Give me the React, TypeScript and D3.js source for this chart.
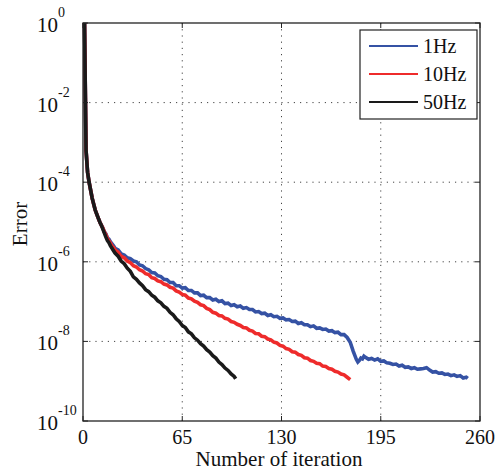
import React from "react";
import * as d3 from "d3";

const X_TICKS = [0, 65, 130, 195, 260];
const Y_TICK_EXPONENTS = [0, -2, -4, -6, -8, -10];
const SERIES_NAMES = ["1Hz", "10Hz", "50Hz"];
const SERIES_COLORS = ["#3552a4", "#ee2b2b", "#1a1a1a"];

const ITER_1HZ = [1,2,3,4,5,6,7,8,9,10,11,12,13,14,15,16,17,18,19,20,21,23,25,27,29,31,33,35,37,39,41,43,45,47,49,51,53,55,57,59,61,63,65,67,69,71,73,75,77,79,81,83,85,87,89,91,93,95,97,99,101,103,105,107,109,111,113,115,117,119,121,123,125,127,129,131,133,135,137,139,141,143,145,147,149,151,153,155,157,159,161,163,165,167,169,171,173,175,177,179,180,181,182,183,184,185,187,189,191,193,195,197,199,201,203,205,207,209,211,213,215,217,219,221,223,225,227,229,231,233,235,237,239,241,243,245,247,249,251,252];
const LOG_ERR_1HZ = [0,-3.2,-3.75,-4.0,-4.2,-4.4,-4.55,-4.7,-4.8,-4.9,-5.0,-5.08,-5.15,-5.25,-5.3,-5.4,-5.43,-5.5,-5.55,-5.6,-5.66,-5.7,-5.8,-5.83,-5.9,-5.92,-5.98,-6.0,-6.08,-6.1,-6.17,-6.2,-6.27,-6.28,-6.35,-6.37,-6.44,-6.45,-6.52,-6.52,-6.6,-6.6,-6.66,-6.65,-6.72,-6.72,-6.78,-6.78,-6.85,-6.84,-6.9,-6.9,-6.96,-6.94,-7.0,-6.98,-7.05,-7.04,-7.1,-7.08,-7.13,-7.11,-7.17,-7.15,-7.2,-7.2,-7.26,-7.25,-7.3,-7.29,-7.35,-7.33,-7.38,-7.37,-7.42,-7.41,-7.46,-7.45,-7.5,-7.49,-7.55,-7.53,-7.58,-7.58,-7.63,-7.61,-7.67,-7.66,-7.7,-7.69,-7.74,-7.73,-7.78,-7.77,-7.83,-7.83,-7.9,-8.02,-8.25,-8.45,-8.52,-8.48,-8.42,-8.44,-8.37,-8.4,-8.45,-8.43,-8.47,-8.44,-8.5,-8.49,-8.54,-8.55,-8.58,-8.57,-8.62,-8.6,-8.65,-8.64,-8.68,-8.66,-8.7,-8.69,-8.68,-8.66,-8.72,-8.77,-8.76,-8.8,-8.79,-8.83,-8.82,-8.86,-8.84,-8.88,-8.86,-8.92,-8.9,-8.93];

const ITER_10HZ = [1,2,3,4,5,6,7,8,9,10,11,12,13,14,15,16,17,18,19,20,21,23,25,27,29,31,33,35,37,39,41,43,45,47,49,51,53,55,57,59,61,63,65,67,69,71,73,75,77,79,81,83,85,87,89,91,93,95,97,99,101,103,105,107,109,111,113,115,117,119,121,123,125,127,129,131,133,135,137,139,141,143,145,147,149,151,153,155,157,159,161,163,165,167,169,171,173,175];
const LOG_ERR_10HZ = [0,-3.2,-3.75,-4.0,-4.2,-4.4,-4.55,-4.7,-4.8,-4.9,-5.0,-5.08,-5.15,-5.25,-5.32,-5.42,-5.47,-5.53,-5.6,-5.64,-5.7,-5.76,-5.86,-5.9,-5.98,-6.02,-6.1,-6.13,-6.2,-6.23,-6.3,-6.32,-6.4,-6.42,-6.48,-6.5,-6.56,-6.58,-6.64,-6.66,-6.73,-6.76,-6.82,-6.84,-6.91,-6.93,-6.99,-7.02,-7.08,-7.1,-7.17,-7.2,-7.27,-7.29,-7.35,-7.36,-7.42,-7.44,-7.5,-7.52,-7.57,-7.6,-7.65,-7.66,-7.72,-7.74,-7.8,-7.81,-7.87,-7.88,-7.94,-7.96,-8.02,-8.04,-8.1,-8.12,-8.18,-8.2,-8.26,-8.27,-8.33,-8.35,-8.41,-8.42,-8.48,-8.5,-8.55,-8.56,-8.62,-8.63,-8.68,-8.7,-8.75,-8.77,-8.82,-8.84,-8.9,-8.96];

const ITER_50HZ = [1,2,3,4,5,6,7,8,9,10,11,12,13,14,15,16,17,18,19,20,21,23,25,27,29,31,33,35,37,39,41,43,45,47,49,51,53,55,57,59,61,63,65,67,69,71,73,75,77,79,81,83,85,87,89,91,93,95,97,99,100];
const LOG_ERR_50HZ = [0,-3.2,-3.75,-4.0,-4.2,-4.4,-4.55,-4.7,-4.8,-4.9,-5.0,-5.08,-5.18,-5.28,-5.38,-5.47,-5.52,-5.6,-5.66,-5.72,-5.78,-5.86,-5.98,-6.05,-6.16,-6.24,-6.38,-6.44,-6.53,-6.6,-6.7,-6.75,-6.84,-6.89,-6.98,-7.03,-7.12,-7.17,-7.27,-7.33,-7.43,-7.5,-7.6,-7.65,-7.76,-7.81,-7.91,-7.97,-8.06,-8.12,-8.21,-8.27,-8.36,-8.42,-8.52,-8.58,-8.67,-8.73,-8.82,-8.88,-8.94];

const FONT = "'Liberation Serif', 'Times New Roman', serif";

export default function App() {
  const W = 497, H = 474;
  const L = 83, R = 480, T = 23, B = 421;
  const x = d3.scaleLinear().domain([0, 260]).range([L, R]);
  const y = d3.scaleLog().domain([1e-10, 1]).range([B, T]);

  const series = [
    { iters: ITER_1HZ, vals: LOG_ERR_1HZ },
    { iters: ITER_10HZ, vals: LOG_ERR_10HZ },
    { iters: ITER_50HZ, vals: LOG_ERR_50HZ },
  ];
  const line = d3
    .line<[number, number]>()
    .x((d) => x(d[0]))
    .y((d) => y(Math.pow(10, d[1])));

  const tickLen = 5;
  const gridDash = "1.2 5";

  return (
    <svg width={W} height={H} style={{ position: "absolute", left: 0, top: 0, background: "#fff" }}>
      <rect x={0} y={0} width={W} height={H} fill="#fff" />
      {Y_TICK_EXPONENTS.filter((e) => e !== 0 && e !== -10).map((e) => (
        <line key={"gy" + e} x1={L} x2={R} y1={y(Math.pow(10, e))} y2={y(Math.pow(10, e))}
          stroke="#444" strokeWidth={1} strokeDasharray={gridDash} />
      ))}
      {X_TICKS.filter((t) => t !== 0 && t !== 260).map((t) => (
        <line key={"gx" + t} x1={x(t)} x2={x(t)} y1={T} y2={B}
          stroke="#444" strokeWidth={1} strokeDasharray={gridDash} />
      ))}
      {series.map((s, i) => (
        <path key={"s" + i}
          d={line(s.iters.map((it, j) => [it, s.vals[j]] as [number, number])) || ""}
          fill="none" stroke={SERIES_COLORS[i]} strokeWidth={3.6} strokeLinejoin="miter" />
      ))}
      {Y_TICK_EXPONENTS.map((e) => {
        const yy = y(Math.pow(10, e));
        return (
          <g key={"ty" + e}>
            <line x1={L} x2={L + tickLen} y1={yy} y2={yy} stroke="#222" strokeWidth={1} />
            <line x1={R} x2={R - tickLen} y1={yy} y2={yy} stroke="#222" strokeWidth={1} />
            <text x={37} y={yy + 9} fontFamily={FONT} fontSize={21} fill="#111">
              10
              <tspan dy={-15} fontSize={14}>{String(e)}</tspan>
            </text>
          </g>
        );
      })}
      {X_TICKS.map((t) => {
        const xx = x(t);
        return (
          <g key={"tx" + t}>
            <line x1={xx} x2={xx} y1={B} y2={B - tickLen} stroke="#222" strokeWidth={1} />
            <line x1={xx} x2={xx} y1={T} y2={T + tickLen} stroke="#222" strokeWidth={1} />
            <text x={xx} y={444} textAnchor="middle" fontFamily={FONT} fontSize={20} fill="#111">{t}</text>
          </g>
        );
      })}
      <rect x={L} y={T} width={R - L} height={B - T} fill="none" stroke="#222" strokeWidth={1.3} />
      <rect x={360} y={30} width={117} height={89} fill="#fff" stroke="#222" strokeWidth={1.2} />
      {SERIES_NAMES.map((n, i) => {
        const ly = 46 + i * 28;
        return (
          <g key={"lg" + n}>
            <line x1={369} x2={418} y1={ly} y2={ly} stroke={SERIES_COLORS[i]} strokeWidth={2.2} />
            <text x={423} y={ly + 7} fontFamily={FONT} fontSize={20} fill="#111">{n}</text>
          </g>
        );
      })}
      <text x={279} y={466} textAnchor="middle" fontFamily={FONT} fontSize={21} fill="#111">Number of iteration</text>
      <text transform="translate(27,224) rotate(-90)" textAnchor="middle" fontFamily={FONT} fontSize={21} fill="#111">Error</text>
    </svg>
  );
}
